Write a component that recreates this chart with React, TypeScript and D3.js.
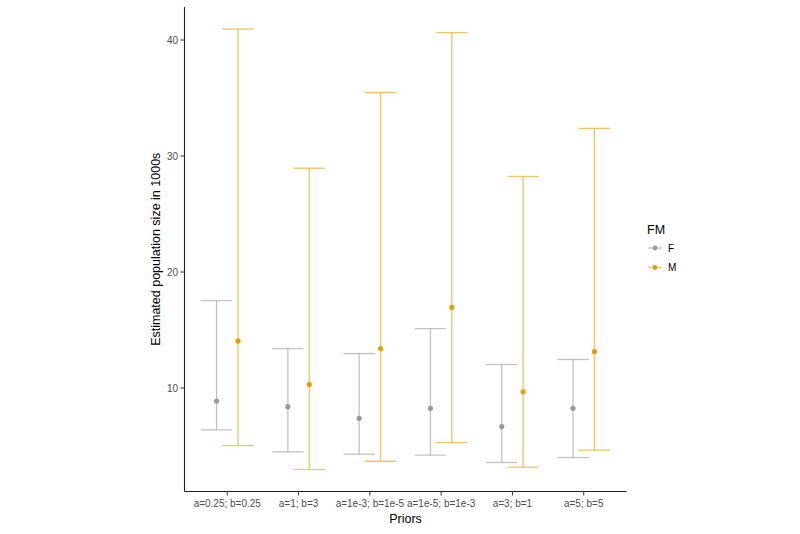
import React from 'react';
import * as d3 from 'd3';

// priors on the x axis
const priors = ['a=0.25; b=0.25', 'a=1; b=3', 'a=1e-3; b=1e-5', 'a=1e-5; b=1e-3', 'a=3; b=1', 'a=5; b=5'];
const groups = ['F', 'M'];

// estimates (in 1000s)
const fMid = [8.88, 8.39, 7.39, 8.25, 6.68, 8.25];
const fLow = [6.39, 4.5, 4.3, 4.21, 3.58, 4.01];
const fHigh = [17.53, 13.4, 12.97, 15.12, 12.03, 12.46];
const mMid = [14.06, 10.31, 13.4, 16.96, 9.68, 13.14];
const mLow = [5.04, 2.98, 3.69, 5.3, 3.18, 4.64];
const mHigh = [40.95, 28.95, 35.48, 40.64, 28.24, 32.39];

const yTicks = [10, 20, 30, 40];

const pointCol: Record<string, string> = { F: '#999999', M: '#E69F00' };

const rows = groups.flatMap(g =>
  priors.map((p, i) => ({
    prior: p,
    group: g,
    mid: g === 'F' ? fMid[i] : mMid[i],
    low: g === 'F' ? fLow[i] : mLow[i],
    high: g === 'F' ? fHigh[i] : mHigh[i],
  }))
);

export default function App() {
  const W = 800, H = 534;
  const left = 184.5, right = 626.5, top = 7, bottom = 491.5;
  const font = '"Liberation Sans", Arial, sans-serif';

  const allVals = rows.flatMap(r => [r.low, r.high]);
  const lo = d3.min(allVals)!, hi = d3.max(allVals)!;
  const pad = (hi - lo) * 0.05;
  const y = d3.scaleLinear().domain([lo - pad, hi + pad]).range([bottom, top]);

  const x = d3.scalePoint<string>().domain(priors).range([left, right]).padding(0.6);
  const step = x.step();
  // dodge width 0.3 -> groups sit at +/- 0.15 of a step
  const dodge = d3.scaleBand<string>().domain(groups).range([-0.3 * step, 0.3 * step]);
  const capHalf = 0.22 * step;

  const cx = (r: { prior: string; group: string }) => x(r.prior)! + dodge(r.group)! + dodge.bandwidth() / 2;

  return (
    <svg width={W} height={H} style={{ position: 'absolute', left: 0, top: 0 }} fontFamily={font}>
      <rect width={W} height={H} fill="#fff" />
      {rows.map((r, i) => {
        const xc = cx(r);
        return (
          <g key={i} stroke={pointCol[r.group]} strokeOpacity={0.6} strokeWidth={1.3}>
            <line x1={xc} x2={xc} y1={y(r.low)} y2={y(r.high)} />
            <line x1={xc - capHalf} x2={xc + capHalf} y1={y(r.low)} y2={y(r.low)} />
            <line x1={xc - capHalf} x2={xc + capHalf} y1={y(r.high)} y2={y(r.high)} />
          </g>
        );
      })}
      {rows.map((r, i) => (
        <circle key={i} cx={cx(r)} cy={y(r.mid)} r={2.6} fill={pointCol[r.group]} />
      ))}

      {/* axes */}
      <line x1={left} x2={left} y1={top} y2={bottom} stroke="#222" strokeWidth={1.1} />
      <line x1={left} x2={right} y1={bottom} y2={bottom} stroke="#222" strokeWidth={1.1} />
      {yTicks.map(t => (
        <g key={t}>
          <line x1={left - 4} x2={left} y1={y(t)} y2={y(t)} stroke="#333" />
          <text x={left - 6.5} y={y(t)} dy="0.35em" textAnchor="end" fontSize={10} fill="#4d4d4d">{t}</text>
        </g>
      ))}
      {priors.map(p => (
        <g key={p}>
          <line x1={x(p)} x2={x(p)} y1={bottom} y2={bottom + 4} stroke="#333" />
          <text x={x(p)} y={bottom + 15} textAnchor="middle" fontSize={10} fill="#4d4d4d">{p}</text>
        </g>
      ))}
      <text x={(left + right) / 2} y={523} textAnchor="middle" fontSize={12.5} fill="#000">Priors</text>
      <text transform={`translate(160,${(top + bottom) / 2}) rotate(-90)`} textAnchor="middle" fontSize={12.5} fill="#000">
        Estimated population size in 1000s
      </text>

      {/* legend */}
      <text x={647} y={234} fontSize={12.5} fill="#000">FM</text>
      {groups.map((g, i) => {
        const ly = 248 + i * 19.5;
        return (
          <g key={g}>
            <line x1={648} x2={662} y1={ly} y2={ly} stroke={pointCol[g]} strokeOpacity={0.6} strokeWidth={1.3} />
            <circle cx={655} cy={ly} r={2.4} fill={pointCol[g]} />
            <text x={668} y={ly} dy="0.35em" fontSize={10} fill="#000">{g}</text>
          </g>
        );
      })}
    </svg>
  );
}
